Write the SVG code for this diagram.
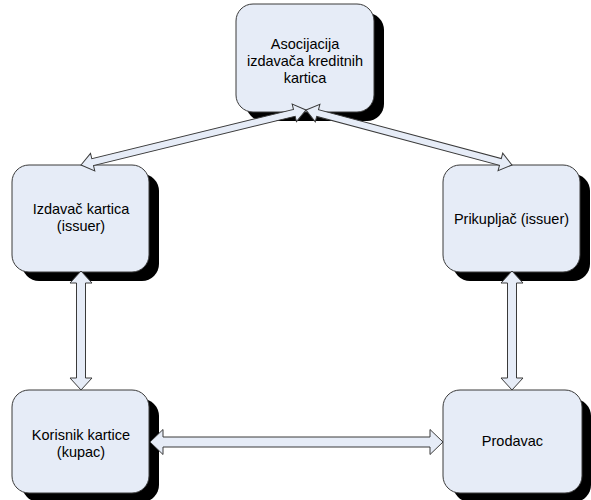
<svg xmlns="http://www.w3.org/2000/svg" width="591" height="500" viewBox="0 0 591 500">
<style>
.box{fill:#E6ECF7;stroke:#3A3A3A;stroke-width:1}
.shadow{fill:#000}
.lbl{font-family:"Liberation Sans",Arial,sans-serif;font-size:14.5px;fill:#000;text-anchor:middle}
.arr{fill:#E6ECF7;stroke:#3A3A3A;stroke-width:1;stroke-linejoin:miter}
</style>
<rect width="591" height="500" fill="#fff"/>
<g id="asocijacija">
<rect class="shadow" x="246" y="13" width="138" height="108" rx="17"/>
<rect class="box" x="236" y="4" width="138" height="108" rx="17"/>
<text class="lbl" x="305" y="49">Asocijacija</text>
<text class="lbl" x="305" y="66">izdavača kreditnih</text>
<text class="lbl" x="305" y="83">kartica</text>
</g>
<g id="izdavac">
<rect class="shadow" x="22" y="174" width="137" height="107" rx="17"/>
<rect class="box" x="12" y="165" width="137" height="107" rx="17"/>
<text class="lbl" x="81" y="214">Izdavač kartica</text>
<text class="lbl" x="81" y="231">(issuer)</text>
</g>
<g id="prikupljac">
<rect class="shadow" x="453" y="174" width="137" height="107" rx="17"/>
<rect class="box" x="443" y="165" width="137" height="107" rx="17"/>
<text class="lbl" x="511.5" y="224">Prikupljač (issuer)</text>
</g>
<g id="korisnik">
<rect class="shadow" x="22" y="399" width="137" height="103" rx="17"/>
<rect class="box" x="12" y="390" width="137" height="103" rx="17"/>
<text class="lbl" x="81" y="440">Korisnik kartice</text>
<text class="lbl" x="81" y="457">(kupac)</text>
</g>
<g id="prodavac">
<rect class="shadow" x="453" y="399" width="138" height="103" rx="17"/>
<rect class="box" x="443" y="390" width="139" height="103" rx="17"/>
<text class="lbl" x="512.5" y="446">Prodavac</text>
</g>
<g id="connectors">
<polygon class="arr" transform="translate(81,165) rotate(-13.74)" points="0,0 12,-9 12,-3.5 219.6,-3.5 219.6,-9 231.6,0 219.6,9 219.6,3.5 12,3.5 12,9"/>
<polygon class="arr" transform="translate(306,110) rotate(14.95)" points="0,0 12,-9 12,-3.5 201.2,-3.5 201.2,-9 213.2,0 201.2,9 201.2,3.5 12,3.5 12,9"/>
<polygon class="arr" transform="translate(81,271) rotate(90)" points="0,0 12,-11 12,-4.5 107,-4.5 107,-11 119,0 107,11 107,4.5 12,4.5 12,11"/>
<polygon class="arr" transform="translate(512,271) rotate(90)" points="0,0 12,-11 12,-4.5 107,-4.5 107,-11 119,0 107,11 107,4.5 12,4.5 12,11"/>
<polygon class="arr" transform="translate(150,442)" points="0,0 13,-12.5 13,-5 280,-5 280,-12.5 293,0 280,12.5 280,5 13,5 13,12.5"/>
</g>
</svg>
